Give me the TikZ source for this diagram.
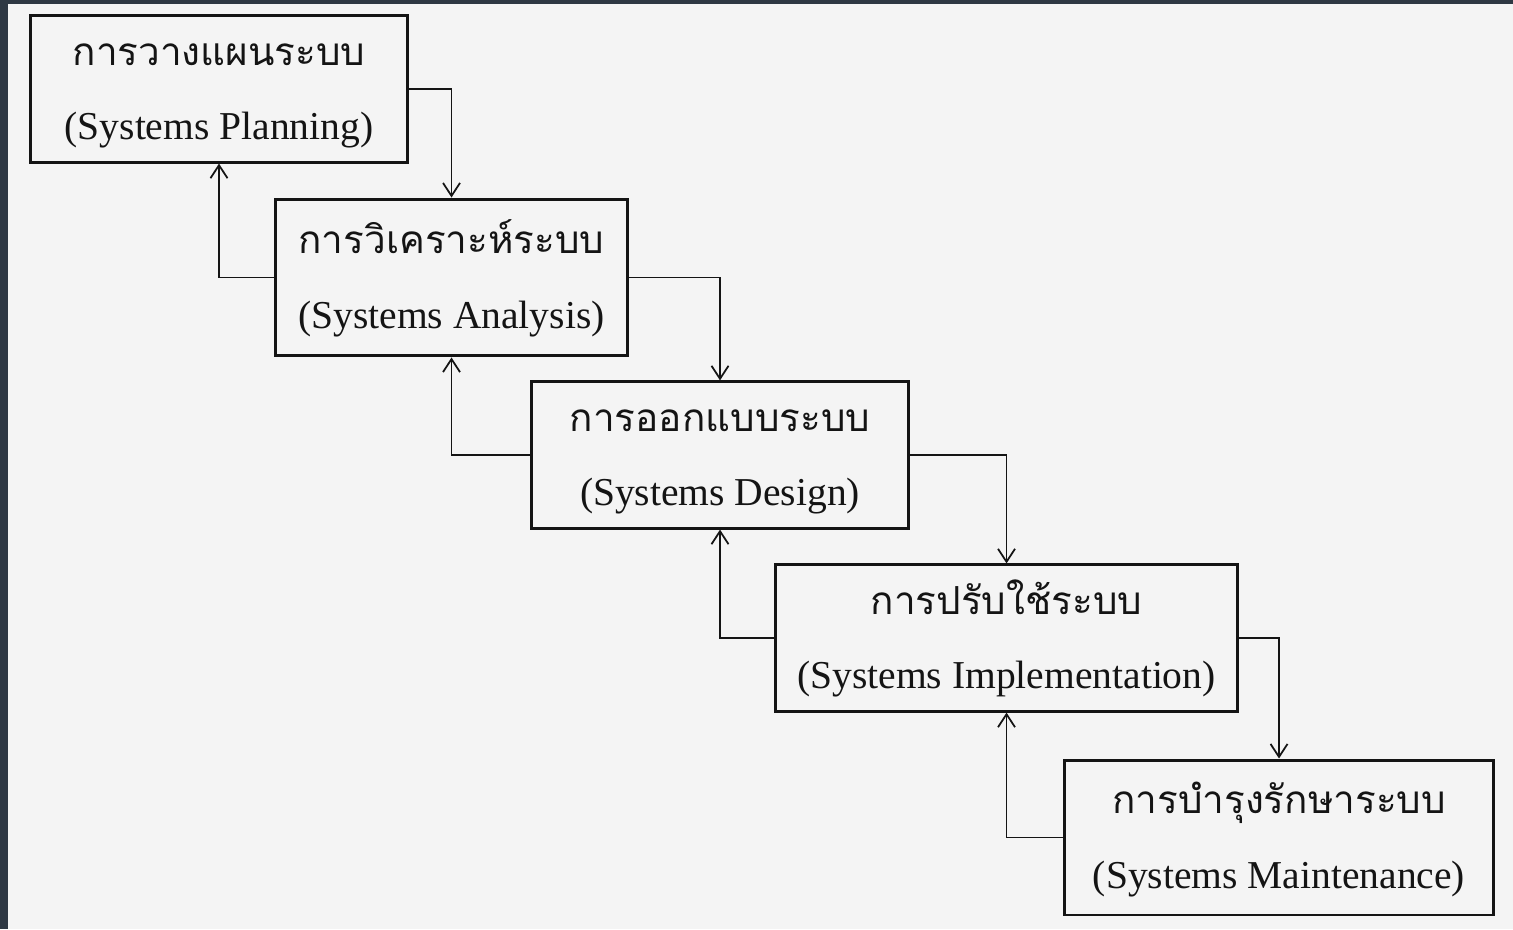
\documentclass[tikz,border=0pt]{standalone}
\usepackage{fontspec}
\setmainfont{Liberation Serif}
\newfontfamily\thaifont[Script=Thai]{Loma}
\usepackage{xcolor}
\usetikzlibrary{arrows.meta}
\definecolor{paper}{RGB}{244,244,244}
\definecolor{edgeslate}{RGB}{46,56,67}
\definecolor{ink}{RGB}{20,20,20}
% two-line box text: Thai name over English name
\newcommand{\stagetext}[2]{\rule{0pt}{28pt}{\thaifont\fontsize{22}{42.5}\selectfont #1}\\#2\rule[-12.7pt]{0pt}{0pt}}

\begin{document}
\begin{tikzpicture}[
  x=0.02cm, y=-0.02cm,
  box/.style={rectangle, draw=ink, line width=1.7pt, align=center, inner sep=0pt,
    text=ink, font=\fontsize{22.5}{42.5}\selectfont},
  arrow/.style={-{Straight Barb[length=2.6mm,width=3.4mm]}, line width=1pt, draw=ink}
]
% page background and dark edge
\fill[paper] (0,0) rectangle (1513,929);
\fill[edgeslate] (0,0) rectangle (1513,4);
\fill[edgeslate] (0,0) rectangle (8,929);

\node[box, minimum width=7.56cm, minimum height=2.88cm] (planning) at (219,89)
  {\stagetext{การวางแผนระบบ}{(Systems Planning)}};
\node[box, minimum width=7.06cm, minimum height=3.14cm] (analysis) at (451.5,277.5)
  {\stagetext{การวิเคราะห์ระบบ}{(Systems Analysis)}};
\node[box, minimum width=7.56cm, minimum height=2.92cm] (design) at (720,455)
  {\stagetext{การออกแบบระบบ}{(Systems Design)}};
\node[box, minimum width=9.26cm, minimum height=2.92cm] (implement) at (1006.5,638)
  {\stagetext{การปรับใช้ระบบ}{(Systems Implementation)}};
\node[box, minimum width=8.6cm, minimum height=3.1cm] (maintain) at (1279,837.5)
  {\stagetext{การบำรุงรักษาระบบ}{(Systems Maintenance)}};

% forward steps
\draw[arrow] (planning.east) -| (analysis.north);
\draw[arrow] (analysis.east) -| (design.north);
\draw[arrow] (design.east) -| (implement.north);
\draw[arrow] (implement.east) -| (maintain.north);

% feedback to the step before
\draw[arrow] (analysis.west) -| (planning.south);
\draw[arrow] (design.west) -| (analysis.south);
\draw[arrow] (implement.west) -| (design.south);
\draw[arrow] (maintain.west) -| (implement.south);

\end{tikzpicture}
\end{document}
